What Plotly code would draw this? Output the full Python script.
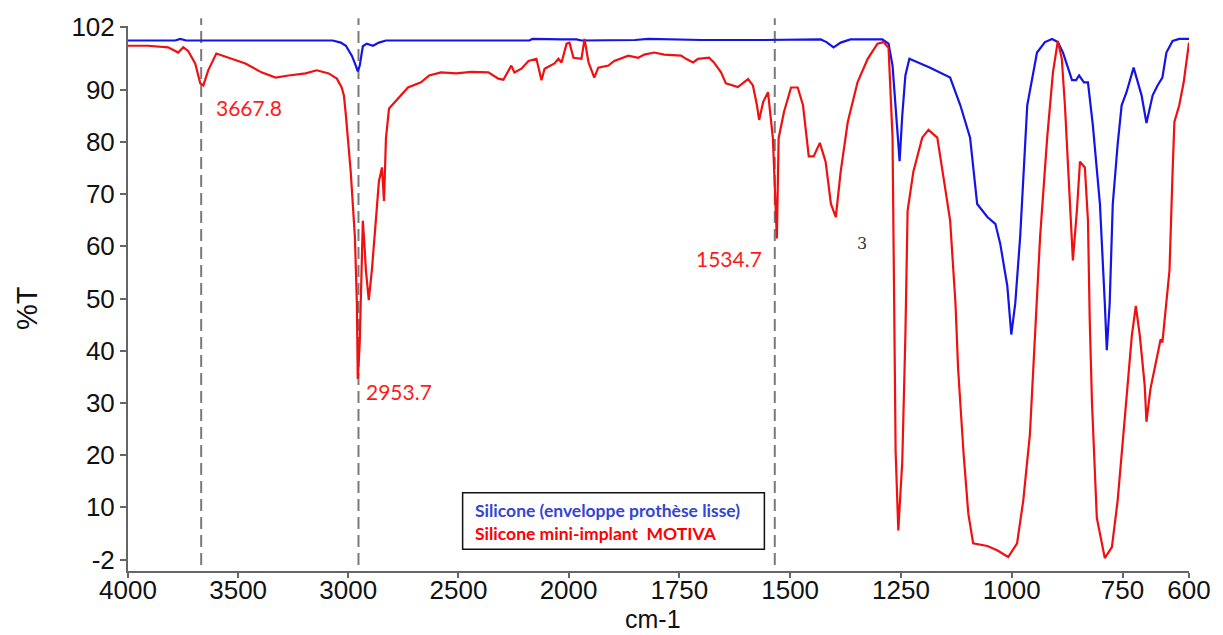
import numpy as np
import plotly.graph_objects as go

# ---------------- data ----------------
blue_wn = [4000, 3786, 3763, 3736, 3071, 3034, 3011, 2984, 2966, 2957, 2948, 2934, 2916, 2888,
           2861, 2829, 2178, 2164, 2032, 1982, 1971, 1850, 1820, 1700, 1560, 1431, 1418, 1402,
           1386, 1364, 1292, 1278, 1269, 1260, 1253, 1247, 1240, 1231, 1184, 1139, 1116, 1094,
           1078, 1055, 1037, 1026, 1010, 1001, 992, 981, 965, 943, 925, 909, 896, 884.5, 864,
           855, 848, 837, 828, 817, 801, 790, 785.5, 779, 772, 761, 752, 741, 725, 707, 696,
           682, 671, 660, 651, 637, 622, 600]
blue_t = [99.4, 99.4, 99.7, 99.4, 99.4, 99.0, 98.4, 96.5, 94.6, 93.5, 94.6, 98.3, 98.8, 98.4,
          99.0, 99.4, 99.4, 99.7, 99.6, 99.6, 99.4, 99.5, 99.7, 99.5, 99.5, 99.6, 99.1, 98.1,
          99.0, 99.6, 99.6, 98.8, 94.6, 83.2, 76.3, 85.1, 92.7, 95.9, 94.2, 92.3, 87.0, 80.8,
          68.1, 65.6, 64.3, 60.5, 52.4, 43.1, 49.1, 61.8, 87.0, 97.1, 99.1, 99.7, 99.1, 97.1, 91.8,
          91.8, 92.7, 91.4, 91.4, 83.2, 68.1, 49.1, 40.1, 49.1, 68.1, 79.5, 87.0, 89.5, 94.2, 88.9, 83.6,
          88.9, 90.8, 92.3, 97.1, 99.3, 99.7, 99.7]

red_wn = [4000, 3909, 3818, 3772, 3749, 3727, 3695, 3672, 3658, 3636, 3599, 3544, 3467, 3394,
          3330, 3271, 3194, 3143, 3089, 3052, 3030, 3020, 3011, 2989, 2970, 2961, 2957, 2948,
          2939, 2934, 2929, 2920, 2907, 2893, 2875, 2861, 2847, 2838, 2834, 2829, 2815, 2774,
          2729, 2670, 2633, 2579, 2510, 2442, 2364, 2319, 2296, 2260, 2246, 2214, 2182, 2146,
          2123, 2109, 2064, 2046, 2032, 2009, 1998, 1989, 1971, 1964, 1955, 1942, 1933, 1910,
          1897, 1865, 1843, 1829, 1807, 1784, 1746, 1735, 1719, 1708, 1683, 1672, 1656, 1645,
          1618, 1595, 1584, 1575, 1570, 1561, 1550, 1539, 1534, 1530, 1526, 1514, 1498, 1483,
          1471, 1458, 1447, 1433, 1420, 1408, 1397, 1386, 1370, 1348, 1325, 1303, 1289, 1278,
          1269, 1267, 1262, 1256, 1247, 1240, 1235, 1222, 1202, 1188, 1168, 1154, 1139, 1127,
          1121, 1109, 1098, 1087, 1055, 1033, 1008, 988, 974, 959, 947, 936, 920, 907, 896,
          887, 880, 873, 864, 862, 853, 846, 835, 828, 824, 819, 808, 790, 774, 761, 745, 729,
          720, 711, 700, 696, 687, 674, 664, 660, 653, 644, 637, 633, 622, 612, 600]
red_t = [98.4, 98.4, 98.1, 97.1, 98.1, 97.4, 95.0, 91.2, 90.8, 93.7, 96.9, 96.1, 95.0, 93.3,
         92.3, 92.7, 93.1, 93.7, 93.1, 92.1, 90.4, 88.9, 85.1, 74.3, 61.8, 49.1, 34.6, 41.6,
         56.7, 64.9, 61.8, 55.4, 49.7, 55.4, 64.9, 72.4, 75.1, 68.7, 73.8, 80.7, 86.4, 88.3,
         90.4, 91.4, 92.7, 93.3, 93.1, 93.4, 93.3, 92.1, 91.9, 94.6, 93.3, 94.0, 95.5, 95.9,
         91.8, 94.0, 95.0, 95.9, 95.2, 98.8, 99.0, 96.1, 95.9, 99.7, 95.2, 92.3, 94.2, 94.6,
         95.5, 96.5, 96.1, 96.7, 97.1, 96.7, 96.5, 95.9, 95.2, 95.9, 96.1, 95.2, 93.3, 91.2,
         90.5, 92.0, 90.8, 87.0, 84.2, 87.6, 89.5, 80.7, 68.1, 61.5, 80.7, 85.7, 90.4, 90.4,
         87.0, 77.2, 77.2, 79.8, 76.2, 68.1, 65.6, 74.3, 83.8, 91.4, 95.9, 98.8, 99.1, 98.0,
         80.8, 61.8, 20.7, 5.6, 18.8, 42.9, 66.8, 74.3, 80.8, 82.3, 80.8, 73.2, 64.9, 49.1,
         36.5, 20.7, 8.8, 3.1, 2.6, 1.8, 0.5, 3.1, 11.3, 24.0, 42.9, 61.8, 80.8, 93.3, 99.3,
         95.9, 87.0, 74.3, 60.5, 57.3, 66.8, 76.2, 75.1, 64.9, 45.9, 30.2, 8.0, 0.3, 2.4, 11.3, 27.0, 42.9,
         48.6, 42.9, 33.4, 26.4, 32.7, 38.4, 42.2, 41.6, 47.2, 55.4, 74.3, 83.8, 87.0, 91.4, 99.0]

peaks = [3667.8, 2953.7, 1534.7]
peak_labels = ["3667.8", "2953.7", "1534.7"]
peak_label_t = [86.5, 32.1, 57.7]

x_tick_wn = [4000, 3500, 3000, 2500, 2000, 1750, 1500, 1250, 1000, 750, 600]
x_tick_text = [str(v) for v in x_tick_wn]
y_tick_vals = [0, 10, 20, 30, 40, 50, 60, 70, 80, 90, 102]
y_tick_text = ["-2", "10", "20", "30", "40", "50", "60", "70", "80", "90", "102"]

series_names = ["Silicone (enveloppe prothèse lisse)", "Silicone mini-implant  MOTIVA"]

# ---------------- axis: spectrometer-style scale change at 2000 cm-1 ----------------
WN_BREAKS = [600, 2000, 4000]
AX_BREAKS = [1062, 441, 0]


def to_axis(w):
    return np.interp(np.asarray(w, dtype=float), WN_BREAKS, AX_BREAKS)


BLUE = "#1414e6"
RED = "#f01010"

fig = go.Figure()
fig.add_trace(go.Scatter(x=to_axis(blue_wn), y=blue_t, mode="lines",
                         line=dict(color=BLUE, width=2.2), name=series_names[0],
                         showlegend=False))
fig.add_trace(go.Scatter(x=to_axis(red_wn), y=red_t, mode="lines",
                         line=dict(color=RED, width=2.2), name=series_names[1],
                         showlegend=False))

for p in peaks:
    xa = float(to_axis(p))
    fig.add_shape(type="line", xref="x", yref="paper", x0=xa, x1=xa, y0=0.011, y1=1.014,
                  line=dict(color="#7a7a7a", width=2, dash="12px,6px"), layer="below")

shifts = [48, 41, -46]
for p, lab, t, s in zip(peaks, peak_labels, peak_label_t, shifts):
    fig.add_annotation(x=float(to_axis(p)), y=t, xref="x", yref="y", text=lab,
                       showarrow=False, xshift=s, xanchor="center", yanchor="middle",
                       font=dict(family="Lato, Open Sans, sans-serif", size=21, color="#ff1a1a"))

# legend box
fig.add_shape(type="rect", xref="paper", yref="paper", x0=0.3154, x1=0.5998, y0=0.0399, y1=0.1434,
              line=dict(color="#111", width=1.5), fillcolor="white", layer="above")
fig.add_annotation(xref="paper", yref="paper", x=0.3249, y=0.089, xanchor="left", yanchor="middle",
                   align="left", showarrow=False,
                   text=("<b><span style='color:#3346d3'>" + series_names[0] + "</span></b><br>"
                         "<b><span style='color:#ff0000'>" + series_names[1] + "</span></b>"),
                   font=dict(family="Lato, Open Sans, sans-serif", size=17.5))

# stray glyph in the reference
fig.add_annotation(x=float(to_axis(1337)), y=60.5, xref="x", yref="y", text="3", showarrow=False,
                   font=dict(family="DejaVu Serif", size=16, color="#333"))

# axis titles
fig.add_annotation(xref="paper", yref="paper", x=-0.095, y=0.483, text="%T", textangle=-90,
                   xanchor="center", yanchor="middle", showarrow=False,
                   font=dict(family="Liberation Sans, Arial", size=29, color="#111"))
fig.add_annotation(xref="paper", yref="paper", x=0.495, y=-0.088, text="cm-1",
                   xanchor="center", yanchor="middle", showarrow=False,
                   font=dict(family="Liberation Sans, Arial", size=25, color="#111"))

fig.update_layout(
    width=1223, height=635,
    margin=dict(l=128, r=33, t=20, b=64),
    paper_bgcolor="white", plot_bgcolor="white",
    showlegend=False,
)
fig.update_xaxes(range=[0, 1062], tickvals=to_axis(x_tick_wn), ticktext=x_tick_text,
                 showline=True, linecolor="#666", linewidth=2, ticks="outside", ticklen=5,
                 tickwidth=1.5, tickcolor="#666", showgrid=False, zeroline=False,
                 ticklabelstandoff=-10,
                 tickfont=dict(family="Liberation Sans, Arial", size=26, color="#111"))
fig.update_yaxes(range=[-2.18, 102.18], tickvals=y_tick_vals, ticktext=y_tick_text,
                 showline=True, linecolor="#666", linewidth=2, ticks="outside", ticklen=6,
                 tickwidth=1.5, tickcolor="#666", showgrid=False, zeroline=False,
                 tickfont=dict(family="Liberation Sans, Arial", size=26, color="#111"))

fig.write_html("out.html", config={"displayModeBar": False},
               post_script="document.body.style.margin='0px';document.body.style.overflow='hidden';")
